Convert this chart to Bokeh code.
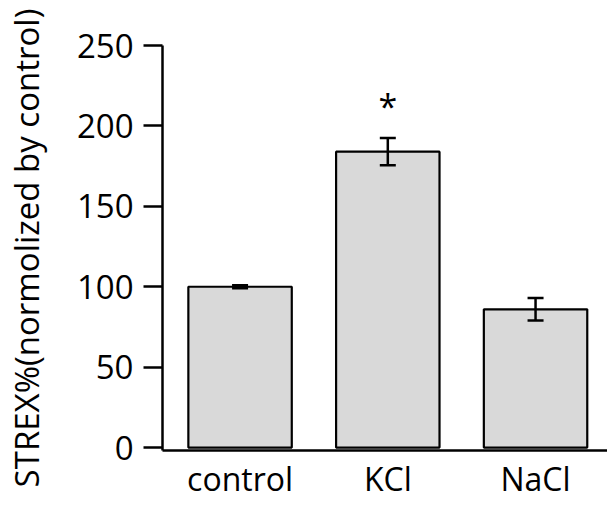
from bokeh.plotting import figure
from bokeh.models import ColumnDataSource, Range1d, FixedTicker, Whisker, TeeHead
from bokeh.core.properties import value
from bokeh.embed import file_html
from bokeh.resources import INLINE

# data
categories = ["control", "KCl", "NaCl"]
means = [100, 184, 86]
errors = [1, 8.5, 7]
significant = [False, True, False]
y_ticks = [0, 50, 100, 150, 200, 250]

FONT = "Open Sans"
xs = list(range(len(categories)))
upper = [m + e for m, e in zip(means, errors)]
lower = [m - e for m, e in zip(means, errors)]
src = ColumnDataSource(dict(x=xs, top=means, upper=upper, lower=lower))

p = figure(width=607, height=502, output_backend="svg", toolbar_location=None,
           x_range=Range1d(-0.525, 2.487), y_range=Range1d(-1.8, 250),
           min_border_left=162, min_border_right=0, min_border_top=45, min_border_bottom=51)
p.outline_line_color = None
p.xgrid.visible = False
p.ygrid.visible = False
p.background_fill_color = "white"
p.border_fill_color = "white"

p.vbar(x="x", top="top", bottom=0, width=0.7, source=src,
       fill_color="#d9d9d9", line_color="black", line_width=2.2)

w = Whisker(source=src, base="x", upper="upper", lower="lower", dimension="height",
            line_color="black", line_width=2.5, level="overlay",
            upper_head=TeeHead(size=16, line_width=2.5, line_color="black"),
            lower_head=TeeHead(size=16, line_width=2.5, line_color="black"))
p.add_layout(w)

star_x = [x for x, s in zip(xs, significant) if s]
star_y = [u + 20 for u, s in zip(upper, significant) if s]
p.text(x=star_x, y=star_y, text=["*"] * len(star_x), text_align="center",
       text_baseline="alphabetic", text_font=value(FONT), text_font_size="34px",
       text_color="black")

# y axis
ya = p.yaxis[0]
ya.ticker = FixedTicker(ticks=y_ticks)
ya.minor_tick_line_color = None
ya.major_tick_in = 0
ya.major_tick_out = 19
ya.major_tick_line_width = 2.5
ya.axis_line_width = 2.5
ya.major_label_text_font = FONT
ya.major_label_text_font_size = "33px"
ya.major_label_text_color = "black"
ya.major_label_standoff = 10
ya.axis_label = "STREX%(normolized by control)"
ya.axis_label_text_font = FONT
ya.axis_label_text_font_size = "33px"
ya.axis_label_text_font_style = "normal"
ya.axis_label_text_color = "black"
ya.axis_label_standoff = 25

# x axis
xa = p.xaxis[0]
xa.ticker = FixedTicker(ticks=xs)
xa.major_label_overrides = {i: c for i, c in zip(xs, categories)}
xa.minor_tick_line_color = None
xa.major_tick_in = 0
xa.major_tick_out = 0
xa.axis_line_width = 2.5
xa.major_label_text_font = FONT
xa.major_label_text_font_size = "32px"
xa.major_label_text_color = "black"
xa.major_label_standoff = 6

open("out.html", "w").write(file_html(p, INLINE))
